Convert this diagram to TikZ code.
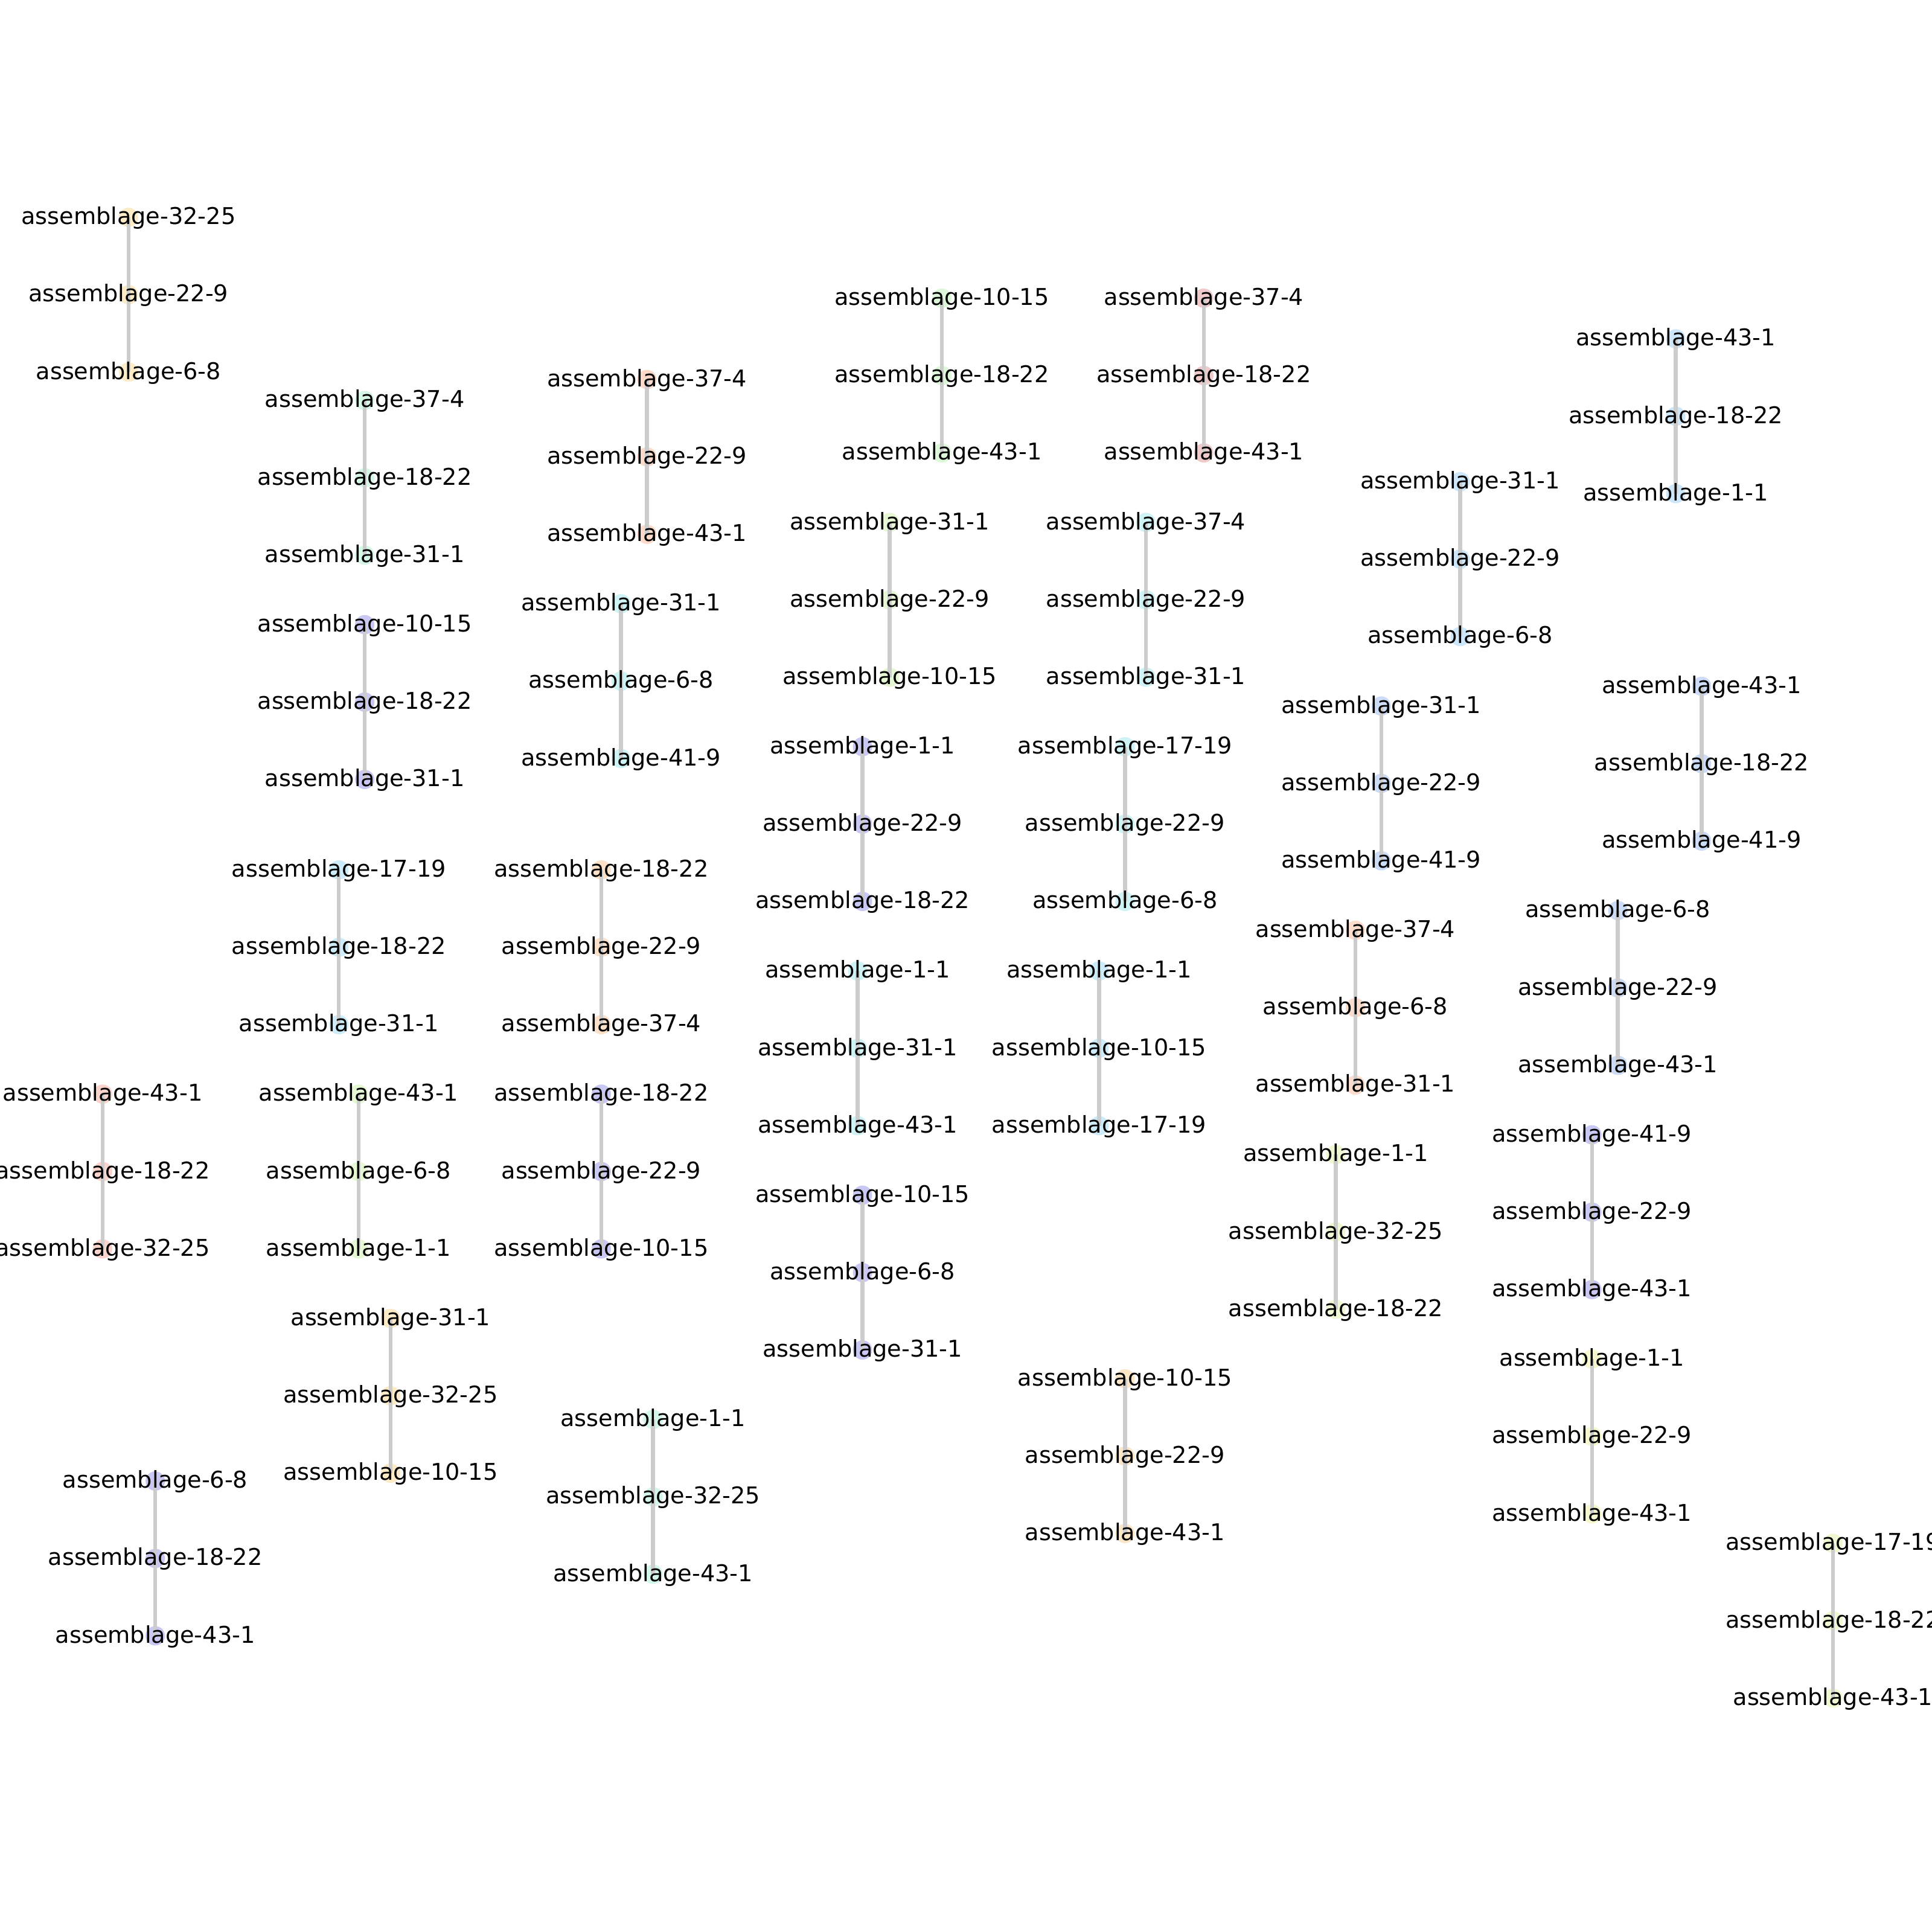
\documentclass[tikz,border=0pt]{standalone}
\usepackage{fontspec}
\setmainfont{DejaVu Sans}
\definecolor{cYor}{HTML}{FCEBC6}
\definecolor{cMint}{HTML}{D6F7E6}
\definecolor{cSal}{HTML}{FCD9C9}
\definecolor{cGrn}{HTML}{DDF7D9}
\definecolor{cPink}{HTML}{F0CACA}
\definecolor{cLblue}{HTML}{CCE6FA}
\definecolor{cLav}{HTML}{C8C8F2}
\definecolor{cCyan}{HTML}{CFF2F5}
\definecolor{cYgrn}{HTML}{E6F7D4}
\definecolor{cBlue}{HTML}{CCDCF7}
\definecolor{cSky}{HTML}{CDEBF8}
\definecolor{cPeach}{HTML}{FCE0C8}
\definecolor{cPsal}{HTML}{FCDCCC}
\definecolor{cRose}{HTML}{FBD3CD}
\definecolor{cPyel}{HTML}{F7F7CF}
\definecolor{cOrg}{HTML}{FCE6C8}
\definecolor{cAqua}{HTML}{D3F6EA}
\definecolor{cLime}{HTML}{EEF8D3}
\definecolor{edgegray}{HTML}{CCCCCC}
\newcommand\mkchain[7]{%
  \node[dotnode,fill=#4] (#1a) at (#2,#3) {};
  \node[dotnode,fill=#4] (#1b) at (#2,#3+62.8) {};
  \node[dotnode,fill=#4] (#1c) at (#2,#3+125.6) {};
  \draw[edgeline] (#1a.center) -- (#1b.center);
  \draw[edgeline] (#1b.center) -- (#1c.center);
  \node[lbl] (#1ta) at ([yshift=-0.1147cm]#1a.center) {#5};
  \node[lbl] (#1tb) at ([yshift=-0.1147cm]#1b.center) {#6};
  \node[lbl] (#1tc) at ([yshift=-0.1147cm]#1c.center) {#7};
}
\begin{document}
\begin{tikzpicture}[x=0.02cm,y=-0.02cm,
  dotnode/.style={circle,draw=none,inner sep=0pt,minimum size=0.3136cm},
  edgeline/.style={draw=edgegray,line width=1.8pt},
  lbl/.style={anchor=base,inner sep=0pt,font=\fontsize{10.66pt}{12pt}\selectfont}]
\useasboundingbox[fill=white] (0,0) rectangle (1568,1568);
\mkchain{k1}{104.3}{176.4}{cYor}{assemblage-32-25}{assemblage-22-9}{assemblage-6-8}
\mkchain{k2}{296}{325}{cMint}{assemblage-37-4}{assemblage-18-22}{assemblage-31-1}
\mkchain{k3}{525}{308}{cSal}{assemblage-37-4}{assemblage-22-9}{assemblage-43-1}
\mkchain{k4}{764.4}{242}{cGrn}{assemblage-10-15}{assemblage-18-22}{assemblage-43-1}
\mkchain{k5}{977}{242}{cPink}{assemblage-37-4}{assemblage-18-22}{assemblage-43-1}
\mkchain{k6}{1360}{275}{cLblue}{assemblage-43-1}{assemblage-18-22}{assemblage-1-1}
\mkchain{k7}{1185}{391}{cLblue}{assemblage-31-1}{assemblage-22-9}{assemblage-6-8}
\mkchain{k8}{296}{507}{cLav}{assemblage-10-15}{assemblage-18-22}{assemblage-31-1}
\mkchain{k9}{504}{490}{cCyan}{assemblage-31-1}{assemblage-6-8}{assemblage-41-9}
\mkchain{k10}{722}{424}{cYgrn}{assemblage-31-1}{assemblage-22-9}{assemblage-10-15}
\mkchain{k11}{930}{424}{cCyan}{assemblage-37-4}{assemblage-22-9}{assemblage-31-1}
\mkchain{k12}{1121}{573}{cBlue}{assemblage-31-1}{assemblage-22-9}{assemblage-41-9}
\mkchain{k13}{1381}{557}{cBlue}{assemblage-43-1}{assemblage-18-22}{assemblage-41-9}
\mkchain{k14}{700}{606}{cLav}{assemblage-1-1}{assemblage-22-9}{assemblage-18-22}
\mkchain{k15}{913}{606}{cCyan}{assemblage-17-19}{assemblage-22-9}{assemblage-6-8}
\mkchain{k16}{275}{706}{cSky}{assemblage-17-19}{assemblage-18-22}{assemblage-31-1}
\mkchain{k17}{488}{706}{cPeach}{assemblage-18-22}{assemblage-22-9}{assemblage-37-4}
\mkchain{k18}{1100}{755}{cPsal}{assemblage-37-4}{assemblage-6-8}{assemblage-31-1}
\mkchain{k19}{1313}{739}{cBlue}{assemblage-6-8}{assemblage-22-9}{assemblage-43-1}
\mkchain{k20}{696}{788}{cCyan}{assemblage-1-1}{assemblage-31-1}{assemblage-43-1}
\mkchain{k21}{892}{788}{cSky}{assemblage-1-1}{assemblage-10-15}{assemblage-17-19}
\mkchain{k22}{83.3}{888}{cRose}{assemblage-43-1}{assemblage-18-22}{assemblage-32-25}
\mkchain{k23}{291}{888}{cYgrn}{assemblage-43-1}{assemblage-6-8}{assemblage-1-1}
\mkchain{k24}{488}{888}{cLav}{assemblage-18-22}{assemblage-22-9}{assemblage-10-15}
\mkchain{k25}{700}{970}{cLav}{assemblage-10-15}{assemblage-6-8}{assemblage-31-1}
\mkchain{k26}{1084}{937}{cLime}{assemblage-1-1}{assemblage-32-25}{assemblage-18-22}
\mkchain{k27}{1292}{921}{cLav}{assemblage-41-9}{assemblage-22-9}{assemblage-43-1}
\mkchain{k28}{317}{1070}{cYor}{assemblage-31-1}{assemblage-32-25}{assemblage-10-15}
\mkchain{k29}{1292}{1103}{cPyel}{assemblage-1-1}{assemblage-22-9}{assemblage-43-1}
\mkchain{k30}{913}{1119}{cOrg}{assemblage-10-15}{assemblage-22-9}{assemblage-43-1}
\mkchain{k31}{530}{1152}{cAqua}{assemblage-1-1}{assemblage-32-25}{assemblage-43-1}
\mkchain{k32}{126}{1202}{cLav}{assemblage-6-8}{assemblage-18-22}{assemblage-43-1}
\mkchain{k33}{1487.6}{1252.5}{cLime}{assemblage-17-19}{assemblage-18-22}{assemblage-43-1}
\end{tikzpicture}
\end{document}
